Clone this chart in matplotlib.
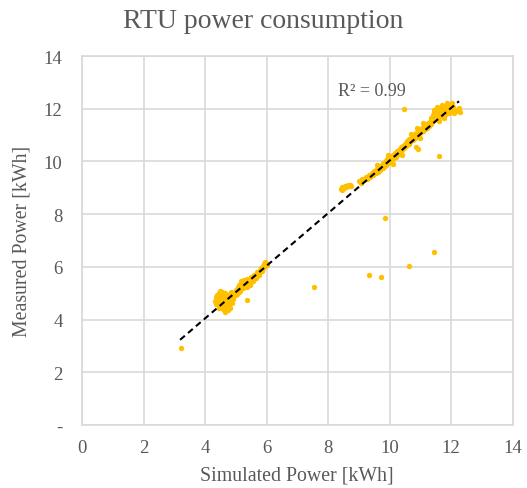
import matplotlib
matplotlib.use("Agg")
import matplotlib.pyplot as plt
from matplotlib.ticker import FuncFormatter, MultipleLocator

plt.rcParams["font.family"] = ["Liberation Serif", "DejaVu Serif"]

# ── Data ─────────────────────────────────────────────────────────────────────

# low-load cluster
low_x = [4.32, 4.35, 4.38, 4.40, 4.42, 4.45, 4.47, 4.50, 4.52, 4.55, 4.57, 4.58,
         4.60, 4.62, 4.64, 4.66, 4.68, 4.70, 4.72, 4.74, 4.76, 4.78, 4.80, 4.45,
         4.55, 4.62, 4.68, 4.50, 4.40, 4.35, 4.85, 4.88, 4.90, 4.82,
         4.92, 4.95, 5.00, 5.02, 5.05, 5.08, 5.10, 5.12, 5.15, 5.18, 5.20, 5.22,
         5.25, 5.28, 5.30, 5.33, 5.35, 5.38, 5.40, 5.43, 5.45, 5.48, 5.50, 5.52,
         5.55, 5.58, 5.60, 5.62, 5.65, 5.68, 5.70, 5.72, 5.75, 5.78, 5.80, 5.82,
         5.85, 5.88, 5.90, 5.92, 5.95, 5.98, 6.00, 5.96]
low_y = [4.70, 4.85, 4.62, 4.95, 4.78, 5.02, 4.55, 4.88, 4.70, 5.05, 4.40, 4.95,
         4.62, 4.80, 4.30, 5.00, 4.50, 4.88, 4.68, 4.35, 4.95, 4.58, 4.78, 4.45,
         4.52, 4.95, 4.72, 5.08, 4.72, 4.58, 5.05, 4.62, 4.88, 4.45,
         4.80, 5.00, 4.92, 5.12, 4.98, 5.22, 5.05, 5.30, 5.10, 5.45, 5.20, 5.38,
         5.18, 5.50, 5.30, 5.42, 5.22, 5.55, 5.35, 5.48, 5.30, 5.60, 5.42, 5.55,
         5.45, 5.70, 5.55, 5.65, 5.58, 5.80, 5.68, 5.78, 5.70, 5.90, 5.82, 5.95,
         5.85, 6.05, 5.95, 6.10, 6.02, 6.15, 6.08, 6.20]

# small group around 8.5 kWh
mid_x = [8.42, 8.47, 8.52, 8.56, 8.60, 8.64, 8.68, 8.72, 8.76, 8.45]
mid_y = [8.95, 9.02, 8.98, 9.06, 9.03, 9.10, 9.05, 9.12, 9.08, 8.90]

# high-load band
high_x = [9.02, 9.08, 9.12, 9.18, 9.22, 9.28, 9.32, 9.38, 9.42, 9.46, 9.50, 9.55,
          9.58, 9.62, 9.66, 9.70, 9.74, 9.78, 9.80, 9.84, 9.88, 9.90, 9.93, 9.96,
          10.00, 10.02, 10.05, 10.08, 10.12, 10.15, 10.18, 10.22, 10.25, 10.28,
          10.32, 10.35, 10.38, 10.42, 10.45, 10.48, 10.52, 10.55, 10.58, 10.62,
          10.65, 10.68, 10.72, 10.75, 10.78, 10.82, 10.85, 10.88, 10.92, 10.95,
          10.98, 11.02, 11.05, 11.08, 11.12, 11.15, 11.18, 11.22, 11.25, 11.28,
          11.32, 11.35, 9.95, 10.10, 10.70, 11.00, 10.90, 9.60, 11.10, 10.40,
          10.94, 10.85,
          11.35, 11.40, 11.42, 11.45, 11.48, 11.50, 11.52, 11.55, 11.58, 11.60,
          11.62, 11.65, 11.68, 11.70, 11.72, 11.75, 11.78, 11.80, 11.82, 11.85,
          11.88, 11.90, 11.92, 11.95, 11.98, 12.00, 12.05, 12.10, 12.15, 12.20,
          12.25, 11.88, 11.70, 11.55, 11.45, 12.30, 12.02, 11.62, 11.78]
high_y = [9.25, 9.18, 9.35, 9.28, 9.42, 9.35, 9.50, 9.40, 9.58, 9.48, 9.65, 9.55,
          9.72, 9.60, 9.80, 9.68, 9.85, 9.75, 9.95, 9.82, 10.02, 9.88, 10.10, 9.95,
          10.12, 9.98, 10.20, 10.05, 10.25, 10.12, 10.32, 10.18, 10.40, 10.28,
          10.45, 10.35, 10.55, 10.42, 10.60, 10.50, 10.68, 10.58, 10.78, 10.65,
          10.85, 10.72, 10.92, 10.80, 11.00, 10.88, 11.08, 10.95, 11.15, 11.02,
          11.20, 11.10, 11.28, 11.15, 11.35, 11.22, 11.40, 11.28, 11.45, 11.35,
          11.50, 11.42, 10.25, 9.92, 11.05, 10.90, 11.25, 9.85, 11.45, 10.25,
          10.48, 10.55,
          11.65, 11.75, 11.55, 11.85, 11.70, 11.95, 11.60, 11.80, 12.00, 11.70,
          11.90, 11.78, 12.05, 11.85, 11.95, 11.72, 12.08, 11.88, 11.98, 11.80,
          12.10, 11.92, 12.02, 11.85, 12.15, 11.95, 12.05, 11.85, 11.95, 11.90,
          12.02, 12.22, 12.15, 12.08, 11.95, 11.88, 12.20, 11.55, 11.65]

# scattered outliers
out_x = [3.22, 5.36, 7.55, 9.34, 9.72, 10.63, 11.45, 9.85, 11.61, 10.47]
out_y = [2.92, 4.76, 5.24, 5.69, 5.62, 6.05, 6.55, 7.87, 10.20, 11.99]

# linear trendline shown in the chart
trend_x = [3.19, 12.26]
trend_slope = 0.998
trend_icept = 0.05
r2_label = "R² = 0.99"

GOLD = "#FFC000"
GRID = "#D9D9D9"
TEXT = "#595959"

# ── Plot ─────────────────────────────────────────────────────────────────────

fig = plt.figure(figsize=(5.27, 4.89), dpi=100)
ax = fig.add_axes([0.1556, 0.1288, 0.8169, 0.7546])

xs = low_x + mid_x + high_x + out_x
ys = low_y + mid_y + high_y + out_y
ax.scatter(xs, ys, s=15, color=GOLD, linewidths=0, zorder=3)

ty = [trend_slope * x + trend_icept for x in trend_x]
ax.plot(trend_x, ty, color="black", linestyle=(0, (3, 2)), linewidth=1.5, zorder=4)
ax.text(8.33, 12.71, r2_label, fontsize=13, color=TEXT, va="center", ha="left")

ax.set_xlim(0, 14)
ax.set_ylim(0, 14)
ax.xaxis.set_major_locator(MultipleLocator(2))
ax.yaxis.set_major_locator(MultipleLocator(2))
ax.yaxis.set_major_formatter(FuncFormatter(lambda v, _: "-" if v == 0 else f"{v:.0f}"))
ax.grid(True, color=GRID, linewidth=1.2)
ax.set_axisbelow(True)
for sp in ax.spines.values():
    sp.set_color(GRID)
    sp.set_linewidth(1.2)
ax.tick_params(length=0, labelsize=13.5, labelcolor=TEXT)
ax.tick_params(axis="x", pad=10)
ax.tick_params(axis="y", pad=14)

ax.set_xlabel("Simulated Power [kWh]", fontsize=14.3, color=TEXT, va="center")
ax.xaxis.set_label_coords(0.5, -0.135)
ax.set_ylabel("Measured Power [kWh]", fontsize=14.3, color=TEXT, va="center")
ax.yaxis.set_label_coords(-0.139, 0.5)
fig.text(0.5, 1 - 22 / 489, "RTU power consumption", fontsize=20, color=TEXT,
         ha="center", va="center")

fig.savefig("out.png", dpi=100)
